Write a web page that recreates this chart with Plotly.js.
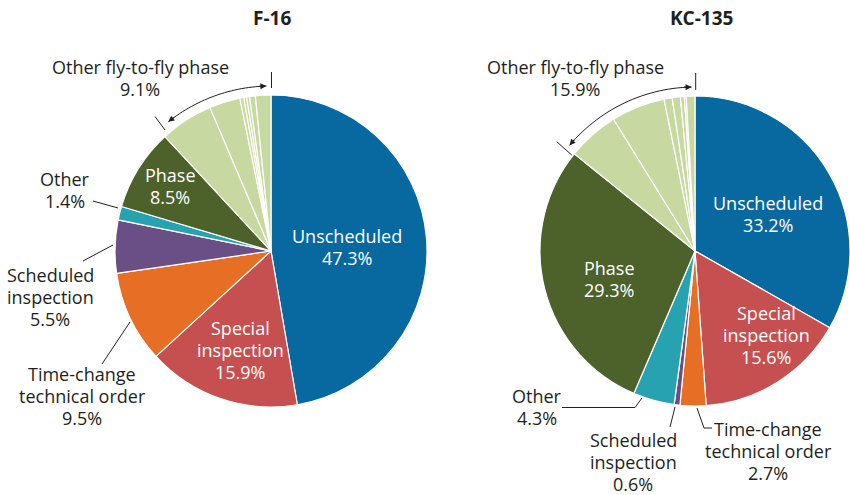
<!DOCTYPE html>
<html>
<head>
<meta charset="utf-8">
<script src="https://cdn.plot.ly/plotly-3.0.1.min.js"></script>
<style>
  html, body { margin: 0; padding: 0; background: #fff; }
  #chart { width: 850px; height: 495px; }
</style>
</head>
<body>
<div id="chart"></div>
<script>
// slice order: clockwise from 12 o'clock
var sliceNames = ['Unscheduled', 'Special inspection', 'Time-change technical order',
    'Scheduled inspection', 'Other', 'Phase',
    'Fly-to-fly 1', 'Fly-to-fly 2', 'Fly-to-fly 3', 'Fly-to-fly 4',
    'Fly-to-fly 5', 'Fly-to-fly 6', 'Fly-to-fly 7']

var f16Values = [47.3, 15.9, 9.5, 5.5, 1.4, 8.5, 5.5, 3.2, 0.4, 0.3, 0.3, 0.6, 1.6]
var kcValues = [33.2, 15.6, 2.7, 0.6, 4.3, 29.3, 5.4, 5.6, 0.85, 0.85, 0.4, 0.2, 0.9]

var f16Labels = ['47.3%', '15.9%', '9.5%', '5.5%', '1.4%', '8.5%', '9.1%']
var kcLabels = ['33.2%', '15.6%', '2.7%', '0.6%', '4.3%', '29.3%', '15.9%']

var colors = ['#0868a0', '#c65050', '#e66e25', '#6a4f86', '#27a2b1', '#4d612b',
    '#c7d8a0', '#c7d8a0', '#c7d8a0', '#c7d8a0', '#c7d8a0', '#c7d8a0', '#c7d8a0']

var W = 850, H = 495
var dark = '#231f20'
var FONT = 'Open Sans, Noto Sans, sans-serif'

function px(x) { return x / W }
function py(y) { return 1 - y / H }

function pie(values, x0, x1, y0, y1) {
    return {
        type: 'pie',
        values: values,
        labels: sliceNames,
        sort: false,
        direction: 'clockwise',
        rotation: 0,
        textinfo: 'none',
        hoverinfo: 'label+value',
        showlegend: false,
        marker: {colors: colors, line: {color: '#ffffff', width: 1.2}},
        domain: {x: [px(x0), px(x1)], y: [py(y1), py(y0)]}
    }
}

var data = [
    pie(f16Values, 115, 427, 95, 407),
    pie(kcValues, 540, 850, 96, 406)
]

var annotations = []
var shapes = []

// one annotation per text line, 22px line spacing
function label(lines, cx, cy, color, size, bold) {
    var n = lines.length
    lines.forEach(function (t, i) {
        annotations.push({
            xref: 'paper', yref: 'paper',
            x: px(cx), y: py(cy + (i - (n - 1) / 2) * 22),
            text: bold ? '<b>' + t + '</b>' : t,
            showarrow: false, xanchor: 'center', yanchor: 'middle',
            font: {family: FONT, size: size || 18, color: color || dark}
        })
    })
}

function line(pts) {
    var d = pts.map(function (p, i) {
        return (i ? 'L' : 'M') + px(p[0]).toFixed(5) + ',' + py(p[1]).toFixed(5)
    }).join(' ')
    shapes.push({type: 'path', xref: 'paper', yref: 'paper', path: d,
        line: {color: dark, width: 1}})
}

// arc with arrowheads at both ends; angles in degrees counter-clockwise from top
function arcArrow(cx, cy, r, a1, a2) {
    var pts = []
    for (var i = 0; i <= 30; i++) {
        var a = (a1 + (a2 - a1) * i / 30) * Math.PI / 180
        pts.push([cx - r * Math.sin(a), cy - r * Math.cos(a)])
    }
    line(pts)
    var L = 9
    var t1 = a1 * Math.PI / 180, t2 = a2 * Math.PI / 180
    annotations.push({xref: 'paper', yref: 'paper', x: px(pts[0][0]), y: py(pts[0][1]),
        text: '', showarrow: true, arrowhead: 2, arrowsize: 1, arrowwidth: 1.2, arrowcolor: dark,
        ax: -L * Math.cos(t1), ay: L * Math.sin(t1)})
    annotations.push({xref: 'paper', yref: 'paper', x: px(pts[30][0]), y: py(pts[30][1]),
        text: '', showarrow: true, arrowhead: 2, arrowsize: 1, arrowwidth: 1.2, arrowcolor: dark,
        ax: L * Math.cos(t2), ay: -L * Math.sin(t2)})
}

// titles
label(['F-16'], 272, 18, dark, 19, true)
label(['KC-135'], 701, 18, dark, 19, true)

// F-16 labels
label(['Unscheduled', f16Labels[0]], 347, 247, '#fff')
label(['Special', 'inspection', f16Labels[1]], 240, 350, '#fff')
label(['Time-change', 'technical order', f16Labels[2]], 82, 396)
label(['Scheduled', 'inspection', f16Labels[3]], 50, 297)
label(['Other', f16Labels[4]], 65, 190)
label(['Phase', f16Labels[5]], 170, 186, '#fff')
label(['Other fly-to-fly phase', f16Labels[6]], 140, 78)

line([[102, 364], [130, 322]])
line([[83, 261], [113, 245]])
line([[93, 201], [118, 208]])
line([[271.5, 72], [271.5, 88]])
line([[155, 116.5], [165, 130]])
arcArrow(271, 251, 165, 1.6, 38.5)

// KC-135 labels
label(['Unscheduled', kcLabels[0]], 768, 214, '#fff')
label(['Special', 'inspection', kcLabels[1]], 766, 335, '#fff')
label(['Time-change', 'technical order', kcLabels[2]], 768, 451)
label(['Scheduled', 'inspection', kcLabels[3]], 633, 462)
label(['Other', kcLabels[4]], 537, 407)
label(['Phase', kcLabels[5]], 609, 279, '#fff')
label(['Other fly-to-fly phase', kcLabels[6]], 575, 78)

line([[562, 407.5], [635, 407.5], [642, 398]])
line([[670, 427], [675, 407]])
line([[697, 408], [704, 428], [712, 428]])
line([[695.7, 73], [695.7, 90]])
line([[556.7, 141.7], [571.7, 155]])
arcArrow(695, 251, 164, 1.2, 49.9)

var layout = {
    width: W,
    height: H,
    margin: {l: 0, r: 0, t: 0, b: 0},
    paper_bgcolor: '#ffffff',
    plot_bgcolor: '#ffffff',
    annotations: annotations,
    shapes: shapes,
    font: {family: FONT, color: dark}
}

Plotly.newPlot('chart', data, layout, {displayModeBar: false, staticPlot: true})
</script>
</body>
</html>
